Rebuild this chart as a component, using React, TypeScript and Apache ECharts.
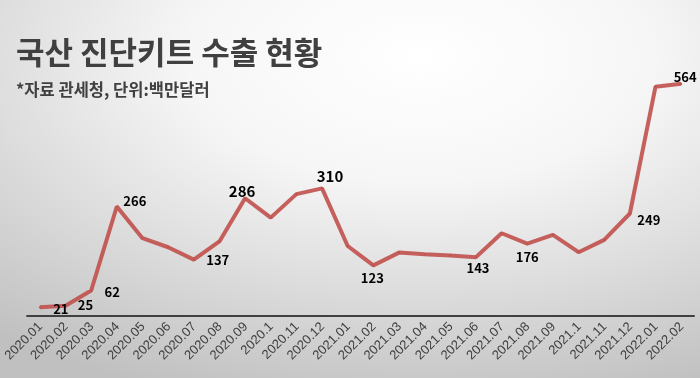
import React, { useEffect, useRef } from "react";
import * as echarts from "echarts";

const categories = [
  "2020.01", "2020.02", "2020.03", "2020.04", "2020.05", "2020.06", "2020.07",
  "2020.08", "2020.09", "2020.1", "2020.11", "2020.12", "2021.01", "2021.02",
  "2021.03", "2021.04", "2021.05", "2021.06", "2021.07", "2021.08", "2021.09",
  "2021.1", "2021.11", "2021.12", "2022.01", "2022.02",
];

const exports = [
  21, 25, 62, 266, 189, 167, 137, 181, 286, 239, 296, 310, 170, 123,
  154, 150, 147, 143, 201, 176, 197, 155, 185, 249, 557, 564,
];

const labeledIndices = [0, 1, 2, 3, 6, 8, 11, 13, 17, 19, 23, 25];

const title = "국산 진단키트 수출 현황";
const subtitle = "*자료 관세청, 단위:백만달러";

// label placement (style only): offset [dx, dy] and font size
const labelStyle: Record<number, { offset: number[]; size: number }> = {
  0: { offset: [21, 1], size: 13 },
  1: { offset: [20, -1], size: 13 },
  2: { offset: [21, 1], size: 13 },
  3: { offset: [18, -6], size: 13 },
  6: { offset: [24, 0], size: 13 },
  8: { offset: [-3, -8], size: 15 },
  11: { offset: [8, -13], size: 15 },
  13: { offset: [-1, 12], size: 13 },
  17: { offset: [2, 10], size: 13 },
  19: { offset: [0, 13], size: 13 },
  23: { offset: [19, 6], size: 13 },
  25: { offset: [4, -7], size: 13 },
};

const FONT = "'Noto Sans CJK KR', 'Noto Sans', sans-serif";

export default function App() {
  const ref = useRef<HTMLDivElement>(null);
  useEffect(() => {
    document.body.style.margin = "0";
    const chart = echarts.init(ref.current!, null, { renderer: "svg" });
    const data = exports.map((v, i) => {
      const ls = labelStyle[i];
      if (labeledIndices.includes(i) && ls) {
        return {
          value: v,
          label: {
            show: true,
            position: "inside",
            offset: ls.offset,
            fontSize: ls.size,
            fontWeight: "bold",
            color: "#000",
            fontFamily: FONT,
          },
        };
      }
      return { value: v, label: { show: false } };
    });
    chart.setOption({
      animation: false,
      backgroundColor: {
        type: "radial",
        x: 0.6,
        y: 0.15,
        r: 0.95,
        colorStops: [
          { offset: 0, color: "#ffffff" },
          { offset: 0.35, color: "#f6f6f6" },
          { offset: 1, color: "#c0c0c0" },
        ],
      },
      title: [
        {
          text: title,
          left: 11,
          top: 30,
          textStyle: { fontFamily: FONT, fontSize: 31, fontWeight: "bold", color: "#404040" },
        },
        {
          text: subtitle,
          left: 11,
          top: 76,
          textStyle: { fontFamily: FONT, fontSize: 16.5, fontWeight: "bold", color: "#404040" },
        },
      ],
      grid: { left: 23, right: 6, top: 69, bottom: 62 },
      xAxis: {
        type: "category",
        data: categories,
        boundaryGap: true,
        axisLine: { lineStyle: { color: "#404040", width: 2 } },
        axisTick: { show: false },
        axisLabel: {
          rotate: 45,
          interval: 0,
          fontSize: 13,
          color: "#404040",
          margin: 8,
          fontFamily: "'Liberation Sans', 'DejaVu Sans', sans-serif",
        },
      },
      yAxis: {
        type: "value",
        min: 0,
        max: 600,
        show: false,
        splitLine: { show: false },
      },
      series: [
        {
          type: "line",
          data,
          symbol: "circle",
          symbolSize: 2,
          itemStyle: { color: "#c0504d" },
          lineStyle: { color: "#c0504d", width: 4, opacity: 0.9 },
        },
      ],
    });
    return () => chart.dispose();
  }, []);
  return (
    <div
      ref={ref}
      style={{ position: "fixed", left: 0, top: 0, width: 700, height: 378 }}
    />
  );
}
